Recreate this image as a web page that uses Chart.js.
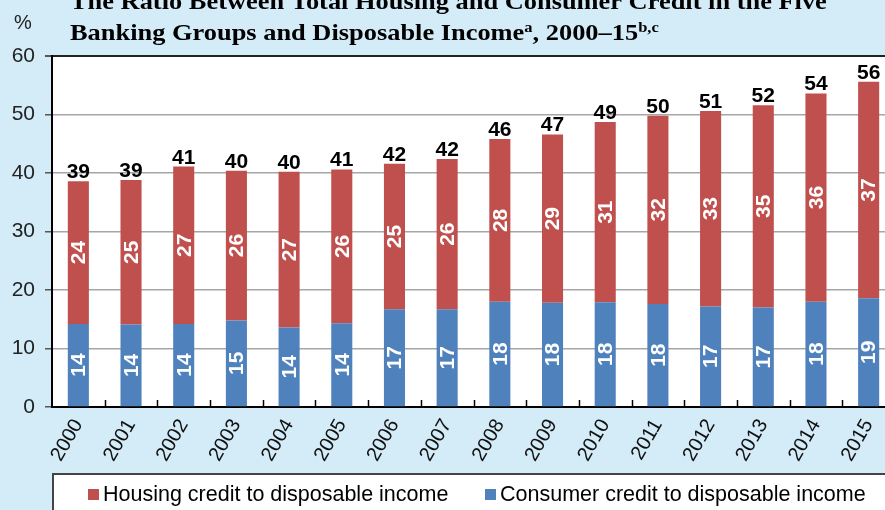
<!DOCTYPE html>
<html>
<head>
<meta charset="utf-8">
<script src="https://cdn.jsdelivr.net/npm/chart.js@4.4.1/dist/chart.umd.min.js"></script>
<style>
  html, body { margin: 0; padding: 0; overflow: hidden; background: #d4ebf8; }
  #chart { display: block; }
</style>
</head>
<body>
<canvas id="chart" width="900" height="510"></canvas>
<script>
// chart data
const years = ['2000', '2001', '2002', '2003', '2004', '2005', '2006', '2007',
               '2008', '2009', '2010', '2011', '2012', '2013', '2014', '2015'];
const consumerCredit = [14.2, 14.1, 14.2, 14.8, 13.6, 14.3, 16.7, 16.7,
                        18.0, 17.8, 17.9, 17.6, 17.2, 17.0, 18.0, 18.6];
const housingCredit = [24.4, 24.7, 26.9, 25.6, 26.6, 26.3, 24.9, 25.7,
                       27.8, 28.8, 30.8, 32.2, 33.4, 34.6, 35.6, 37.0];
const yTicks = [0, 10, 20, 30, 40, 50, 60];

const seriesNames = {
  housing: 'Housing credit to disposable income',
  consumer: 'Consumer credit to disposable income'
};

const BG = '#d4ebf8';
const RED = '#c0504d';
const BLUE = '#4f81bd';
const SANS = '"Liberation Sans", Arial, sans-serif';
const SERIF = '"Liberation Serif", "Times New Roman", serif';

/**
 * Paint the light blue page and the white plot area
 */
const backgroundPlugin = {
  id: 'background',
  beforeDraw(chart) {
    const { ctx, chartArea } = chart;
    ctx.save();
    ctx.fillStyle = BG;
    ctx.fillRect(0, 0, chart.width, chart.height);
    ctx.fillStyle = '#ffffff';
    ctx.fillRect(chartArea.left, chartArea.top, chartArea.right - chartArea.left, chartArea.bottom - chartArea.top);
    ctx.restore();
  }
};

/**
 * Values inside the segments (rotated) and totals on top of each bar
 */
const valueLabelPlugin = {
  id: 'valueLabels',
  afterDatasetsDraw(chart) {
    const ctx = chart.ctx;
    ctx.save();
    chart.data.datasets.forEach((ds, i) => {
      const meta = chart.getDatasetMeta(i);
      meta.data.forEach((bar, j) => {
        const mid = (bar.y + bar.base) / 2;
        ctx.save();
        ctx.translate(bar.x, mid);
        ctx.rotate(-Math.PI / 2);
        ctx.fillStyle = '#ffffff';
        ctx.font = 'bold 21px ' + SANS;
        ctx.textAlign = 'center';
        ctx.textBaseline = 'middle';
        ctx.fillText(String(Math.round(ds.data[j])), 0, 1);
        ctx.restore();
      });
    });

    // totals above the stacks
    const topMeta = chart.getDatasetMeta(1);
    ctx.fillStyle = '#000000';
    ctx.font = 'bold 21px ' + SANS;
    ctx.textAlign = 'center';
    ctx.textBaseline = 'alphabetic';
    topMeta.data.forEach((bar, j) => {
      const total = consumerCredit[j] + housingCredit[j];
      ctx.fillText(String(Math.round(total)), bar.x, bar.y - 3);
    });
    ctx.restore();
  }
};

/**
 * Inner tick marks on the x axis, title, unit and legend box
 */
const decorPlugin = {
  id: 'decor',
  afterDraw(chart) {
    const { ctx, chartArea } = chart;
    const n = years.length;
    const step = (chartArea.right - chartArea.left) / n;

    ctx.save();
    // small ticks between categories, pointing up into the plot
    ctx.strokeStyle = '#000000';
    ctx.lineWidth = 1.5;
    for (let i = 1; i < n; i++) {
      const x = Math.round(chartArea.left + i * step) + 0.5;
      ctx.beginPath();
      ctx.moveTo(x, chartArea.bottom);
      ctx.lineTo(x, chartArea.bottom - 7);
      ctx.stroke();
    }

    // unit
    ctx.fillStyle = '#222222';
    ctx.font = '20px ' + SANS;
    ctx.textAlign = 'left';
    ctx.textBaseline = 'alphabetic';
    ctx.fillText('%', 14, 29);

    // title, first line is cut by the top edge; the reference is a bit wide
    ctx.fillStyle = '#000000';
    drawRich(ctx, 70, 9, 1.1, [
      { text: 'The Ratio Between Total Housing and Consumer Credit in the Five', size: 24 }
    ]);
    drawRich(ctx, 70, 40, 1.1, [
      { text: 'Banking Groups and Disposable Income', size: 24 },
      { text: 'a', size: 15, rise: 8 },
      { text: ', 2000\u201315', size: 24 },
      { text: 'b,c', size: 15, rise: 8 }
    ]);

    // legend box
    ctx.fillStyle = '#ffffff';
    ctx.fillRect(53, 474, chart.width, 60);
    ctx.strokeStyle = '#444444';
    ctx.lineWidth = 2;
    ctx.strokeRect(53, 474, chart.width, 60);

    const items = [
      { label: seriesNames.housing, color: RED, x: 88 },
      { label: seriesNames.consumer, color: BLUE, x: 485 }
    ];
    ctx.font = '21.5px ' + SANS;
    ctx.textBaseline = 'alphabetic';
    items.forEach(item => {
      ctx.fillStyle = item.color;
      ctx.fillRect(item.x, 489, 11, 11);
      ctx.fillStyle = '#000000';
      ctx.fillText(item.label, item.x + 15, 501);
    });
    ctx.restore();
  }
};

function drawRich(ctx, x, y, stretch, parts) {
  ctx.save();
  ctx.translate(x, y);
  ctx.scale(stretch, 1);
  let pos = 0;
  parts.forEach(p => {
    ctx.font = 'bold ' + p.size + 'px ' + SERIF;
    ctx.fillText(p.text, pos, -(p.rise || 0));
    pos += ctx.measureText(p.text).width;
  });
  ctx.restore();
}

const ctx = document.getElementById('chart').getContext('2d');
const chart = new Chart(ctx, {
  type: 'bar',
  data: {
    labels: years,
    datasets: [
      {
        label: seriesNames.consumer,
        data: consumerCredit,
        backgroundColor: BLUE,
        barPercentage: 0.4,
        categoryPercentage: 1.0
      },
      {
        label: seriesNames.housing,
        data: housingCredit,
        backgroundColor: RED,
        barPercentage: 0.4,
        categoryPercentage: 1.0
      }
    ]
  },
  options: {
    responsive: false,
    devicePixelRatio: 1,
    animation: false,
    layout: {
      padding: { top: 56, right: 5, left: 0, bottom: 0 }
    },
    scales: {
      x: {
        stacked: true,
        grid: { display: true, drawOnChartArea: false, drawTicks: false },
        border: { color: '#000000', width: 2 },
        ticks: {
          color: '#111111',
          font: { family: SANS, size: 20 },
          minRotation: 60,
          maxRotation: 60,
          padding: 8
        },
        afterFit(scale) { scale.height = 510 - 407; }
      },
      y: {
        stacked: true,
        min: yTicks[0],
        max: yTicks[yTicks.length - 1],
        afterBuildTicks(scale) { scale.ticks = yTicks.map(v => ({ value: v })); },
        grid: {
          color: c => (c.tick && c.tick.value === 60 ? '#222222' : '#a6a6a6'),
          lineWidth: c => (c.tick && c.tick.value === 60 ? 2 : 1.5),
          tickLength: 7,
          tickColor: '#555555'
        },
        border: { color: '#000000', width: 2 },
        ticks: {
          color: '#222222',
          font: { family: SANS, size: 21 },
          padding: 10
        },
        afterFit(scale) { scale.width = 52; }
      }
    },
    plugins: {
      legend: { display: false },
      tooltip: { enabled: false },
      title: { display: false }
    }
  },
  plugins: [backgroundPlugin, valueLabelPlugin, decorPlugin]
});
</script>
</body>
</html>
